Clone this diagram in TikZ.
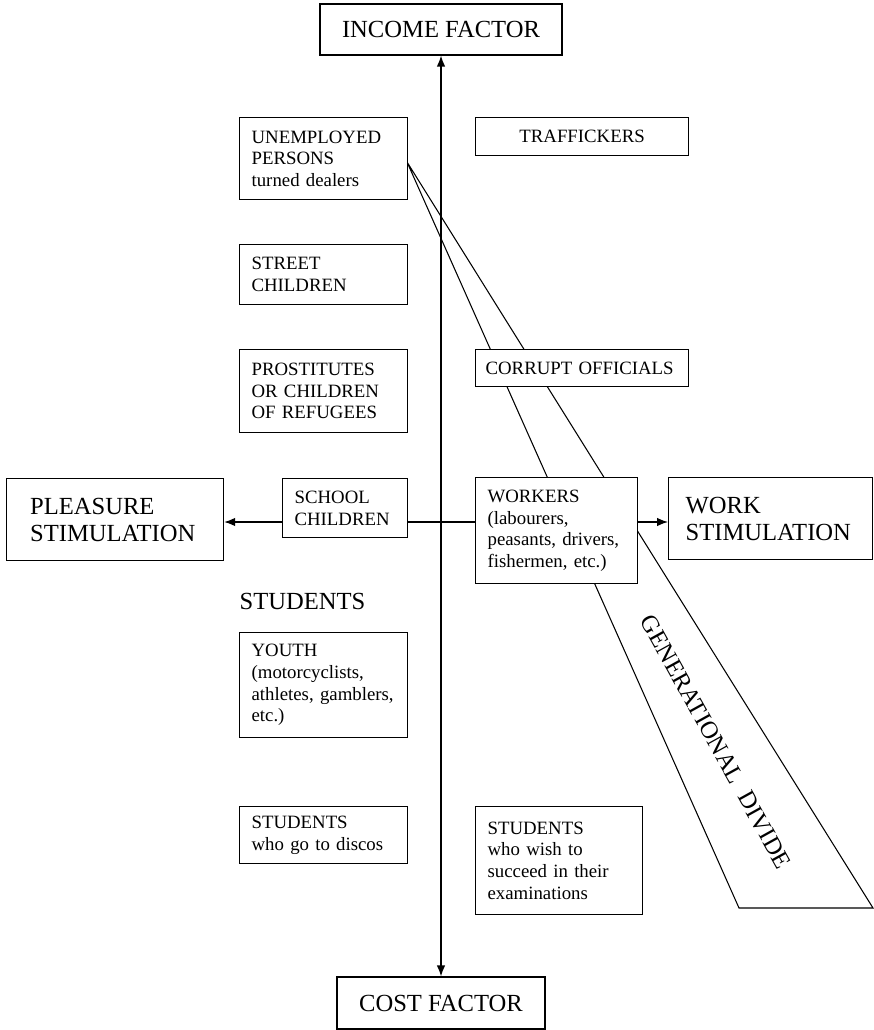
\documentclass[tikz,border=0pt]{standalone}
\usepackage{fontspec}
\setmainfont{Liberation Serif}
\usetikzlibrary{arrows.meta}
\newcommand{\smalltext}{\fontsize{10.7}{12.3}\selectfont}
\newcommand{\bigtext}{\fontsize{14}{15.4}\selectfont}
\tikzset{
  box/.style={draw, line width=0.7pt, fill=white, anchor=north west, align=left, font=\smalltext, inner xsep=0.24cm, inner ysep=0pt},
  bigbox/.style={box, font=\bigtext},
  arrowed/.style={-{Latex[length=2.2mm,width=1.7mm]}},
  twoway/.style={{Latex[length=2.2mm,width=1.7mm]}-{Latex[length=2.2mm,width=1.7mm]}},
  band/.style={line width=0.6pt, line join=miter}
}
\begin{document}
\begin{tikzpicture}[x=0.02cm, y=-0.02cm, line width=0.7pt]
\useasboundingbox (0,0) rectangle (874,1030);
\coordinate (apex) at (407,162); \coordinate (bandleft) at (739,908); \coordinate (bandright) at (873,908);
\draw[band] (apex) -- (bandleft) -- (bandright) -- cycle;
\node[rotate=-61, font=\bigtext, inner sep=0pt] (divide) at (716,742) {GENERATIONAL\hspace{0.5em}DIVIDE};
\node[bigbox, anchor=center, inner xsep=0.44cm, minimum height=1.02cm] (income) at (441,29.5) {INCOME FACTOR};
\node[bigbox, anchor=center, inner xsep=0.44cm, minimum height=1.04cm] (cost) at (441,1003) {COST FACTOR};
\node[box, text width=2.88cm, minimum height=1.64cm] (unemployed) at (239,117) {UNEMPLOYED\\PERSONS\\turned dealers};
\node[box, align=center, text width=3.78cm, minimum height=0.76cm] (traffickers) at (475,117) {TRAFFICKERS};
\node[box, text width=2.88cm, minimum height=1.2cm] (street) at (239,244) {STREET\\CHILDREN};
\node[box, text width=2.88cm, minimum height=1.66cm] (prostitutes) at (239,349) {PROSTITUTES\\OR CHILDREN\\OF REFUGEES};
\node[box, text width=3.86cm, inner xsep=0.2cm, minimum height=0.74cm] (corrupt) at (475,349) {CORRUPT OFFICIALS};
\node[box, text width=2.02cm, minimum height=1.18cm] (school) at (282,478) {SCHOOL\\CHILDREN};
\node[box, text width=2.76cm, minimum height=2.12cm] (workers) at (475,477) {WORKERS\\(labourers,\\peasants, drivers,\\fishermen, etc.)};
\node[bigbox, text width=3.4cm, inner xsep=0.47cm, minimum height=1.64cm] (pleasure) at (6,478) {PLEASURE\\STIMULATION};
\node[bigbox, text width=3.4cm, inner xsep=0.34cm, minimum height=1.64cm] (work) at (668,477) {WORK\\STIMULATION};
\node[anchor=west, inner sep=0pt, font=\bigtext] (students) at (239,601) {STUDENTS};
\node[box, text width=2.88cm, minimum height=2.1cm] (youth) at (239,632) {YOUTH\\(motorcyclists,\\athletes, gamblers,\\etc.)};
\node[box, text width=2.88cm, minimum height=1.14cm] (discos) at (239,806) {STUDENTS\\who go to discos};
\node[box, text width=2.86cm, minimum height=2.16cm] (examinations) at (475,806) {STUDENTS\\who wish to\\succeed in their\\examinations};
\coordinate (mid) at (441,522);
\draw[twoway] (income.south) -- (cost.north);
\draw[arrowed] (school.west |- mid) -- (pleasure.east |- mid);
\draw (school.east |- mid) -- (workers.west |- mid);
\draw[arrowed] (workers.east |- mid) -- (work.west |- mid);
\end{tikzpicture}
\end{document}
